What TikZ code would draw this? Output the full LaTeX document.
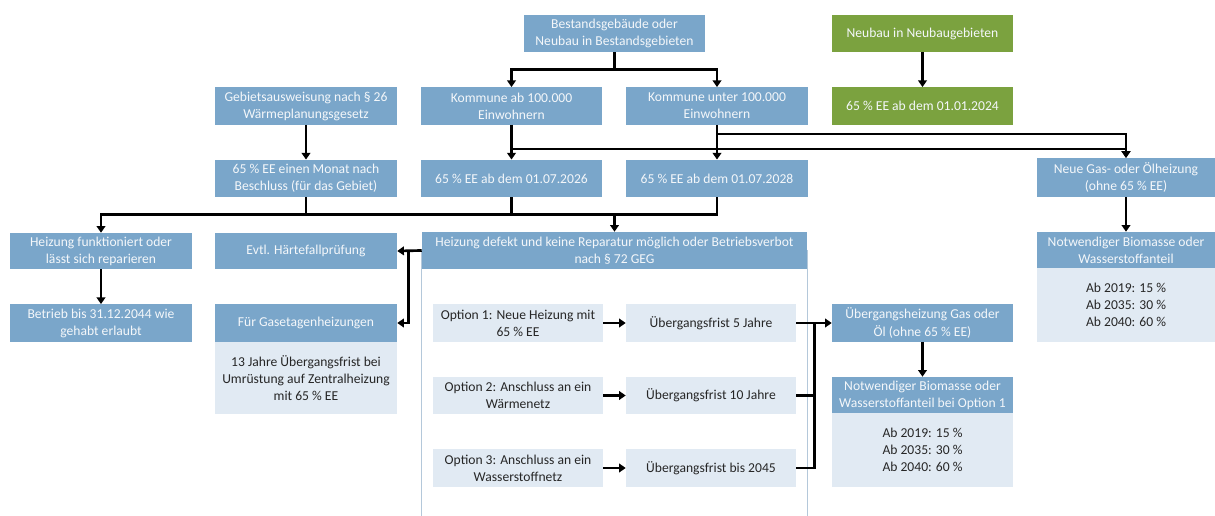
\documentclass[tikz,border=0pt]{standalone}
\usepackage{fontspec}
\setmainfont{Carlito}
\usetikzlibrary{arrows.meta,calc}
\definecolor{hblue}{HTML}{7AA6CA}
\definecolor{lblue}{HTML}{E1EAF3}
\definecolor{hgreen}{HTML}{7BA23F}
\definecolor{outl}{HTML}{B4C8DA}
\definecolor{dtext}{HTML}{262626}
\definecolor{wtext}{HTML}{F4F7FA}
\tikzset{
  hdr/.style={fill=hblue, text=wtext, inner sep=0pt, align=center, font=\fontsize{10.2}{12.8}\selectfont, minimum width=136.5pt, minimum height=28pt},
  grn/.style={hdr, fill=hgreen},
  lbox/.style={fill=lblue, text=dtext, inner sep=0pt, align=center, font=\fontsize{10.2}{12.8}\selectfont, minimum width=127.5pt, minimum height=28pt},
  lbody/.style={fill=lblue, text=dtext, inner sep=0pt, align=center, font=\fontsize{10.2}{12.8}\selectfont, minimum width=136.5pt},
  arr/.style={line width=2pt, -{Triangle[width=6.5pt,length=5pt]}},
  ln/.style={line width=2pt},
}
\begin{document}
\begin{tikzpicture}[x=0.75pt,y=-0.75pt]
\useasboundingbox (0,0) rectangle (1215,516);
% big outline
\draw[outl, line width=0.8pt] (421.5,250) -- (421.5,516) (807.5,250) -- (807.5,516);
% row 1
\node[hdr, minimum width=135.75pt] (best) at (614.5,33.5) {Bestandsgebäude oder\\Neubau in Bestandsgebieten};
\node[grn, minimum width=135.75pt] (neu) at (922.5,33.5) {Neubau in Neubaugebieten};
% row 2
\node[hdr] (gebiet) at (306,106) {Gebietsausweisung nach § 26\\Wärmeplanungsgesetz};
\node[hdr, minimum width=135.75pt] (kab) at (511.5,106) {Kommune ab 100.000\\Einwohnern};
\node[hdr] (kunter) at (717,106) {Kommune unter 100.000\\Einwohnern};
\node[grn, minimum width=135.75pt] (neu65) at (922.5,106) {65 \% EE ab dem 01.01.2024};
% row 3
\node[hdr] (geb65) at (306,178.5) {65 \% EE einen Monat nach\\Beschluss (für das Gebiet)};
\node[hdr, minimum width=135.75pt] (k26) at (511.5,178.5) {65 \% EE ab dem 01.07.2026};
\node[hdr] (k28) at (717,178.5) {65 \% EE ab dem 01.07.2028};
\node[hdr, minimum width=133.5pt, minimum height=29pt] (neuegas) at (1126,177.5) {Neue Gas- oder Ölheizung\\(ohne 65 \% EE)};
% row 4
\node[hdr, minimum height=27pt] (funkt) at (101,251) {Heizung funktioniert oder\\lässt sich reparieren};
\node[hdr, minimum height=27pt] (haerte) at (306,251) {Evtl. Härtefallprüfung};
\node[hdr, minimum width=288.75pt, minimum height=27.75pt] (defekt) at (614.5,250.5) {Heizung defekt und keine Reparatur möglich oder Betriebsverbot\\nach § 72 GEG};
\node[lbody, minimum width=133.5pt, minimum height=55.5pt] (rnotb) at (1126,305) {Ab 2019: 15 \%\\Ab 2035: 30 \%\\Ab 2040: 60 \%};
\node[hdr, minimum width=133.5pt, minimum height=27pt] (rnot) at (1126,250) {Notwendiger Biomasse oder\\Wasserstoffanteil};
% row 5
\node[hdr] (betrieb) at (101,323) {Betrieb bis 31.12.2044 wie\\gehabt erlaubt};
\node[lbody, minimum height=54pt] (gasb) at (306,378) {13 Jahre Übergangsfrist bei\\Umrüstung auf Zentralheizung\\mit 65 \% EE};
\node[hdr] (gas) at (306,323) {Für Gasetagenheizungen};
\node[lbox] (opt1) at (518,323) {Option 1: Neue Heizung mit\\65 \% EE};
\node[lbox] (f1) at (711,323) {Übergangsfrist 5 Jahre};
\node[hdr, minimum width=135.75pt] (ueber) at (922.5,323) {Übergangsheizung Gas oder\\Öl (ohne 65 \% EE)};
% row 6
\node[lbox] (opt2) at (518,395.5) {Option 2: Anschluss an ein\\Wärmenetz};
\node[lbox] (f2) at (711,395.5) {Übergangsfrist 10 Jahre};
\node[lbody, minimum width=135.75pt, minimum height=55.5pt] (not1b) at (922.5,450) {Ab 2019: 15 \%\\Ab 2035: 30 \%\\Ab 2040: 60 \%};
\node[hdr, minimum width=135.75pt, minimum height=27pt] (not1) at (922.5,395) {Notwendiger Biomasse oder\\Wasserstoffanteil bei Option 1};
% row 7
\node[lbox] (opt3) at (518,468) {Option 3: Anschluss an ein\\Wasserstoffnetz};
\node[lbox] (f3) at (711,468) {Übergangsfrist bis 2045};

% connectors top
\draw[ln] (best.south) -- ++(0,17) coordinate (jb);
\draw[arr] (jb) -| (kab.north);
\draw[arr] (jb) -| (kunter.north);
\draw[arr] (neu) -- (neu65);
\draw[arr] (gebiet) -- (geb65);
\draw[arr] (kab) -- (k26);
\draw[arr] (kunter) -- (k28);
\draw[arr] (kab.south) -- ++(0,24) -| (neuegas.north);
\draw[arr] (kunter.south) -- ++(0,9) -| (neuegas.north);
% collect row 3
\coordinate (jr) at ($(geb65.south)+(0,17)$);
\draw[ln] (geb65.south) -- (jr);
\draw[ln] (k26.south) -- (k26.south |- jr);
\draw[ln] (k28.south) -- (k28.south |- jr);
\draw[ln, line cap=rect] (funkt.north |- jr) -- (k28.south |- jr);
\draw[arr] (funkt.north |- jr) -- (funkt.north);
\draw[arr] (defekt.north |- jr) -- (defekt.north);
\draw[arr] (funkt) -- (betrieb);
\draw[arr] (neuegas) -- (rnot);
% defekt to left boxes
\draw[arr] (defekt.west) -- (haerte.east);
\draw[arr] ($(haerte.east)+(11,0)$) |- (gas.east);
% options
\draw[arr] (opt1) -- (f1);
\draw[arr] (opt2) -- (f2);
\draw[arr] (opt3) -- (f3);
\coordinate (jf) at ($(f1.east)+(18,0)$);
\draw[ln] (f2.east) -- (jf |- f2.east);
\draw[ln] (f3.east) -| (jf);
\draw[arr] (f1.east) -- (ueber.west);
\draw[arr] (ueber) -- (not1);
\end{tikzpicture}
\end{document}
